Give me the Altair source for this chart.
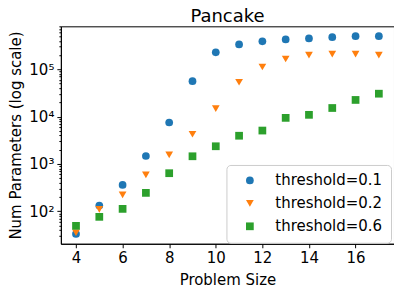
import altair as alt
import pandas as pd

sizes = list(range(4, 18))
series_names = ["threshold=0.1", "threshold=0.2", "threshold=0.6"]
vals_01 = [33, 132, 360, 1470, 7500, 56000, 228000, 336000, 390000, 428000, 450000, 478000, 500000, 500000]
vals_02 = [35, 109, 221, 586, 1550, 4240, 14700, 53200, 112000, 165000, 200000, 210000, 210000, 200000]
vals_06 = [49, 76, 112, 244, 636, 1450, 2360, 3940, 5070, 9400, 10900, 15200, 22500, 30500]

rows = []
for name, vals in zip(series_names, [vals_01, vals_02, vals_06]):
    for s, v in zip(sizes, vals):
        rows.append({"size": s, "params": v, "series": name})
df = pd.DataFrame(rows)

x_ticks = [4, 6, 8, 10, 12, 14, 16]
major_ticks = [100, 1000, 10000, 100000]
minor_ticks = [k * 10 ** e for e in range(1, 6) for k in range(2, 10) if 20.5 <= k * 10 ** e <= 8.1e5]

label_expr = ("datum.value == 100 ? '10²' : datum.value == 1000 ? '10³' : "
              "datum.value == 10000 ? '10⁴' : '10⁵'")

font = "DejaVu Sans"
x_enc = alt.X("size:Q", title="Problem Size",
              scale=alt.Scale(domain=[3.35, 17.65], nice=False, zero=False),
              axis=alt.Axis(values=x_ticks, grid=False, tickSize=4, labelPadding=3,
                            labelFontSize=15, titleFontSize=15, titleFontWeight="normal",
                            titlePadding=7, domainColor="black", tickColor="black",
                            labelColor="black", titleColor="black", labelFont=font, titleFont=font))
y_scale = alt.Scale(type="log", domain=[20.5, 8.1e5], nice=False)

points = alt.Chart(df).mark_point(filled=True, opacity=1, size=60).encode(
    x=x_enc,
    y=alt.Y("params:Q", title="Num Parameters (log scale)", scale=y_scale,
            axis=alt.Axis(values=major_ticks, labelExpr=label_expr, grid=False, tickSize=4,
                          labelPadding=3, labelFontSize=15, titleFontSize=15, orient="left",
                          titleFontWeight="normal", titlePadding=5, domainColor="black",
                          tickColor="black", labelColor="black", titleColor="black",
                          labelFont=font, titleFont=font)),
    color=alt.Color("series:N", title=None,
                    scale=alt.Scale(domain=series_names, range=["#1f77b4", "#ff7f0e", "#2ca02c"])),
    shape=alt.Shape("series:N", title=None,
                    scale=alt.Scale(domain=series_names, range=["circle", "triangle-down", "square"])),
)

minor = alt.Chart(df).mark_point(opacity=0).encode(
    x=x_enc,
    y=alt.Y("params:Q", scale=y_scale,
            axis=alt.Axis(values=minor_ticks, labels=False, title=None, grid=False, tickSize=2,
                          domain=False, orient="left", tickColor="black")),
)

chart = alt.layer(points, minor).resolve_axis(y="independent").properties(
    width=334, height=218,
    title=alt.TitleParams("Pancake", fontSize=18, font=font, fontWeight="normal", color="black",
                          offset=0),
    autosize=alt.AutoSizeParams(type="none"),
    padding={"left": 53, "top": 18, "right": 0, "bottom": 52},
).configure_view(
    stroke="black", strokeWidth=1
).configure_legend(
    orient="none", legendX=166, legendY=139,
    strokeColor="#cccccc", fillColor="white", cornerRadius=4, padding=8,
    symbolSize=60, symbolOffset=8, labelFontSize=15, labelFont=font, labelColor="black",
    labelOffset=18, rowPadding=7, symbolStrokeWidth=0,
)

chart.save("out.html", embed_options={"renderer": "svg", "actions": False})
